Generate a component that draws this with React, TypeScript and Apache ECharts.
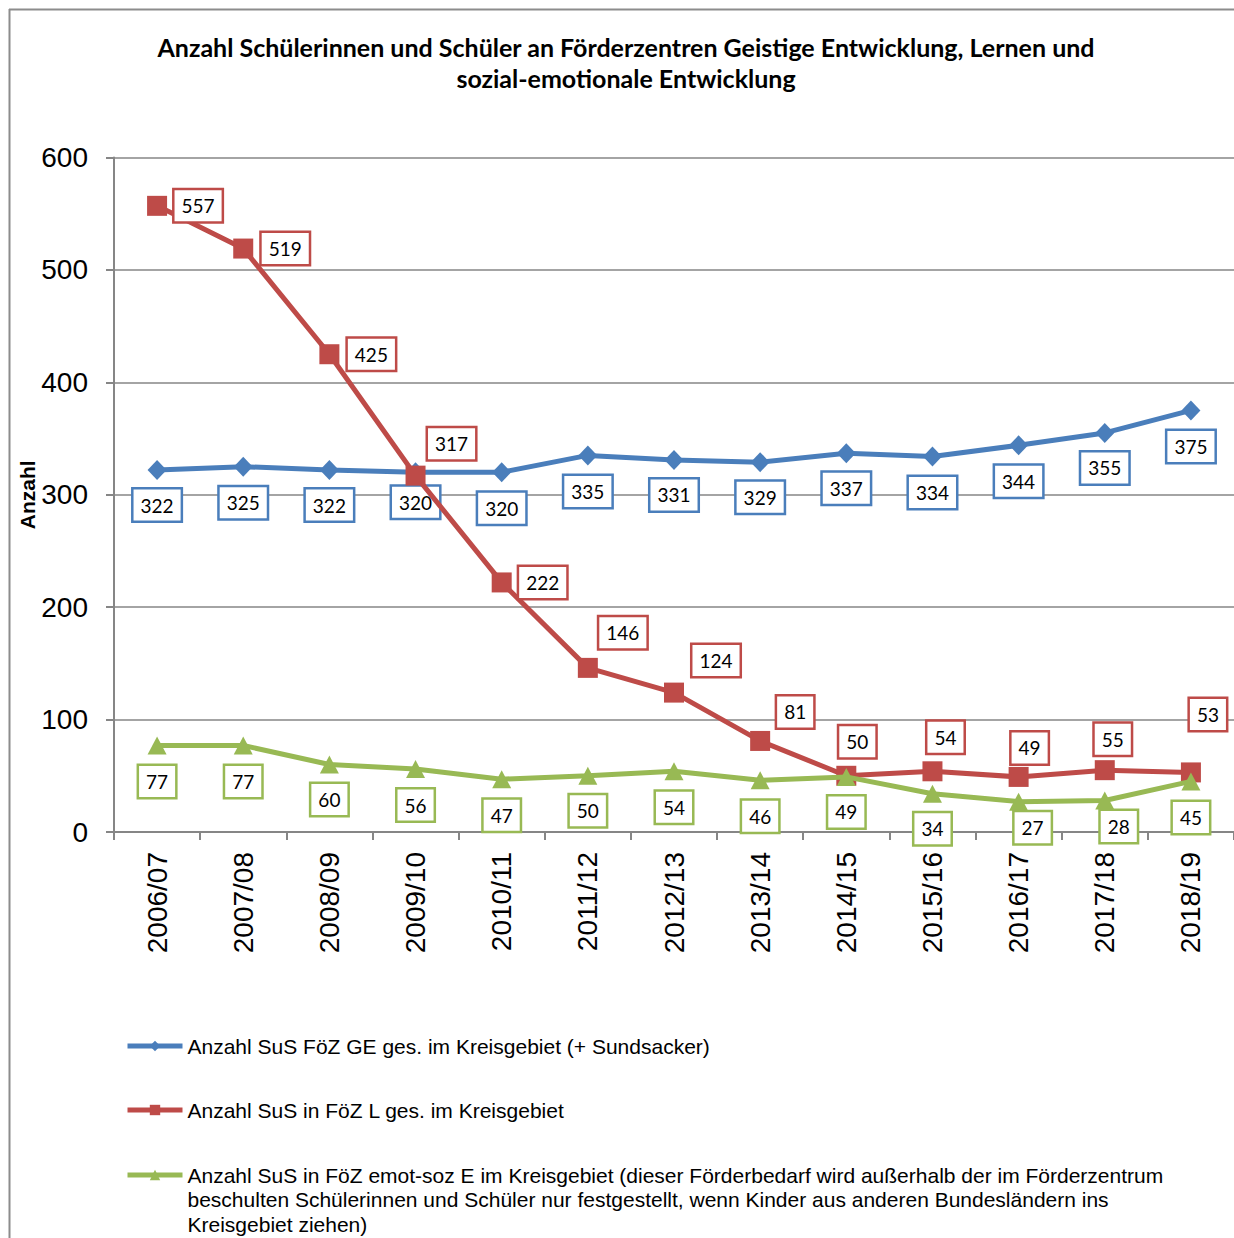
import React, { useEffect, useRef } from "react";
import * as echarts from "echarts";

const categories = [
  "2006/07", "2007/08", "2008/09", "2009/10", "2010/11", "2011/12", "2012/13",
  "2013/14", "2014/15", "2015/16", "2016/17", "2017/18", "2018/19",
];

const seriesGE = "Anzahl SuS FöZ GE ges. im Kreisgebiet (+ Sundsacker)";
const seriesL = "Anzahl SuS in FöZ L ges. im Kreisgebiet";
const seriesE =
  "Anzahl SuS in FöZ emot-soz E im Kreisgebiet (dieser Förderbedarf wird außerhalb der im Förderzentrum beschulten Schülerinnen und Schüler nur festgestellt, wenn Kinder aus anderen Bundesländern ins Kreisgebiet ziehen)";

const legendLinesE = [
  "Anzahl SuS in FöZ emot-soz E im Kreisgebiet (dieser Förderbedarf wird außerhalb der im Förderzentrum",
  "beschulten Schülerinnen und Schüler nur festgestellt, wenn Kinder aus anderen Bundesländern ins",
  "Kreisgebiet ziehen)",
];

const valuesGE = [322, 325, 322, 320, 320, 335, 331, 329, 337, 334, 344, 355, 375];
const valuesL = [557, 519, 425, 317, 222, 146, 124, 81, 50, 54, 49, 55, 53];
const valuesE = [77, 77, 60, 56, 47, 50, 54, 46, 49, 34, 27, 28, 45];

const yMin = 0;
const yMax = 600;
const yInterval = 100;

const title = "Anzahl Schülerinnen und Schüler an Förderzentren Geistige Entwicklung, Lernen und\nsozial-emotionale Entwicklung";
const yAxisName = "Anzahl";

// label placement (offset of label centre from point, px)
const offsetsGE = [[0, 35], [0, 36], [0, 35], [0, 30], [0, 36], [0, 36], [0, 35], [0, 35], [0, 35], [0, 36], [0, 36], [0, 35], [0, 36]];
const offsetsL = [[41, 0], [42, 0], [42, 0], [36, -32], [41, 0], [35, -35], [42, -32], [35, -29], [11, -34], [13, -34], [11, -29], [8, -31], [17, -58]];
const offsetsE = [[0, 36], [0, 36], [0, 35], [0, 36], [0, 36], [0, 35], [0, 36], [0, 36], [0, 35], [0, 35], [14, 26], [14, 26], [0, 36]];

const BLUE = "#4A7EBB";
const RED = "#BE4B48";
const GREEN = "#98B954";
const GRAY = "#868686";

function labelStyle(color: string) {
  return {
    show: true,
    position: "inside",
    color: "#000",
    fontFamily: "Lato",
    fontSize: 19,
    lineHeight: 21,
    backgroundColor: "#fff",
    borderColor: color,
    borderWidth: 2.5,
    padding: [5, 7],
  };
}

function makeData(values: number[], offsets: number[][]) {
  return values.map((v, i) => ({ value: v, label: { offset: offsets[i] } }));
}

export default function App() {
  const ref = useRef<HTMLDivElement>(null);
  useEffect(() => {
    if (!ref.current) return;
    const chart = echarts.init(ref.current, null, { renderer: "svg" });
    const legendText = {
      fontFamily: "Liberation Sans",
      fontSize: 21,
      color: "#000",
      lineHeight: 24.5,
    };
    const legendCommon = {
      left: 125,
      padding: 0,
      orient: "vertical",
      itemWidth: 55,
      itemHeight: 13,
      lineStyle: { width: 5 },
      textStyle: legendText,
    };
    chart.setOption({
      animation: false,
      backgroundColor: "#fff",
      title: {
        text: title,
        left: 626,
        top: 31,
        textAlign: "center",
        padding: 0,
        textStyle: {
          fontFamily: "Lato",
          fontWeight: "bold",
          fontSize: 25,
          lineHeight: 31,
          color: "#000",
        },
      },
      graphic: [
        { type: "line", shape: { x1: 9, y1: 9.5, x2: 1234, y2: 9.5 }, style: { stroke: "#8c8c8c", lineWidth: 2 } },
        { type: "line", shape: { x1: 9.5, y1: 9, x2: 9.5, y2: 1238 }, style: { stroke: "#8c8c8c", lineWidth: 2 } },
      ],
      grid: { left: 114, right: 0, top: 157.5, bottom: 406, containLabel: false },
      xAxis: {
        type: "category",
        data: categories,
        boundaryGap: true,
        axisLine: { lineStyle: { color: GRAY, width: 2 } },
        axisTick: { show: true, length: 8, lineStyle: { color: GRAY, width: 2 } },
        axisLabel: {
          rotate: 90,
          fontFamily: "Liberation Sans",
          fontSize: 28,
          color: "#000",
          margin: 20,
        },
        splitLine: { show: false },
      },
      yAxis: {
        type: "value",
        min: yMin,
        max: yMax,
        interval: yInterval,
        name: yAxisName,
        nameLocation: "middle",
        nameRotate: 90,
        nameGap: 76,
        nameMoveOverlap: false,
        nameTextStyle: {
          fontFamily: "Liberation Sans",
          fontWeight: "bold",
          fontSize: 21,
          color: "#000",
        },
        axisLine: { show: true, lineStyle: { color: GRAY, width: 2 } },
        axisTick: { show: true, length: 8, lineStyle: { color: GRAY, width: 2 } },
        axisLabel: {
          fontFamily: "Liberation Sans",
          fontSize: 28,
          color: "#000",
          margin: 26,
        },
        splitLine: { show: true, lineStyle: { color: GRAY, width: 1.5 } },
      },
      legend: [
        { ...legendCommon, data: [seriesGE], top: 1046 - 12.25 },
        { ...legendCommon, data: [seriesL], top: 1110 - 12.25 },
        {
          ...legendCommon,
          data: [seriesE],
          top: 1175 - 2.5 * 24.5,
          formatter: () => ["", ""].concat(legendLinesE).join("\n"),
        },
      ],
      series: [
        {
          name: seriesGE,
          type: "line",
          data: makeData(valuesGE, offsetsGE),
          symbol: "diamond",
          symbolSize: [19, 20],
          lineStyle: { color: BLUE, width: 5 },
          itemStyle: { color: BLUE },
          label: labelStyle(BLUE),
          z: 2,
        },
        {
          name: seriesL,
          type: "line",
          data: makeData(valuesL, offsetsL),
          symbol: "rect",
          symbolSize: 20,
          lineStyle: { color: RED, width: 5 },
          itemStyle: { color: RED },
          label: labelStyle(RED),
          z: 3,
        },
        {
          name: seriesE,
          type: "line",
          data: makeData(valuesE, offsetsE),
          symbol: "triangle",
          symbolSize: [19, 18],
          lineStyle: { color: GREEN, width: 5 },
          itemStyle: { color: GREEN },
          label: labelStyle(GREEN),
          z: 4,
        },
      ],
    });
    return () => chart.dispose();
  }, []);
  return (
    <div
      ref={ref}
      style={{ position: "absolute", left: 0, top: 0, width: 1234, height: 1238 }}
    />
  );
}
